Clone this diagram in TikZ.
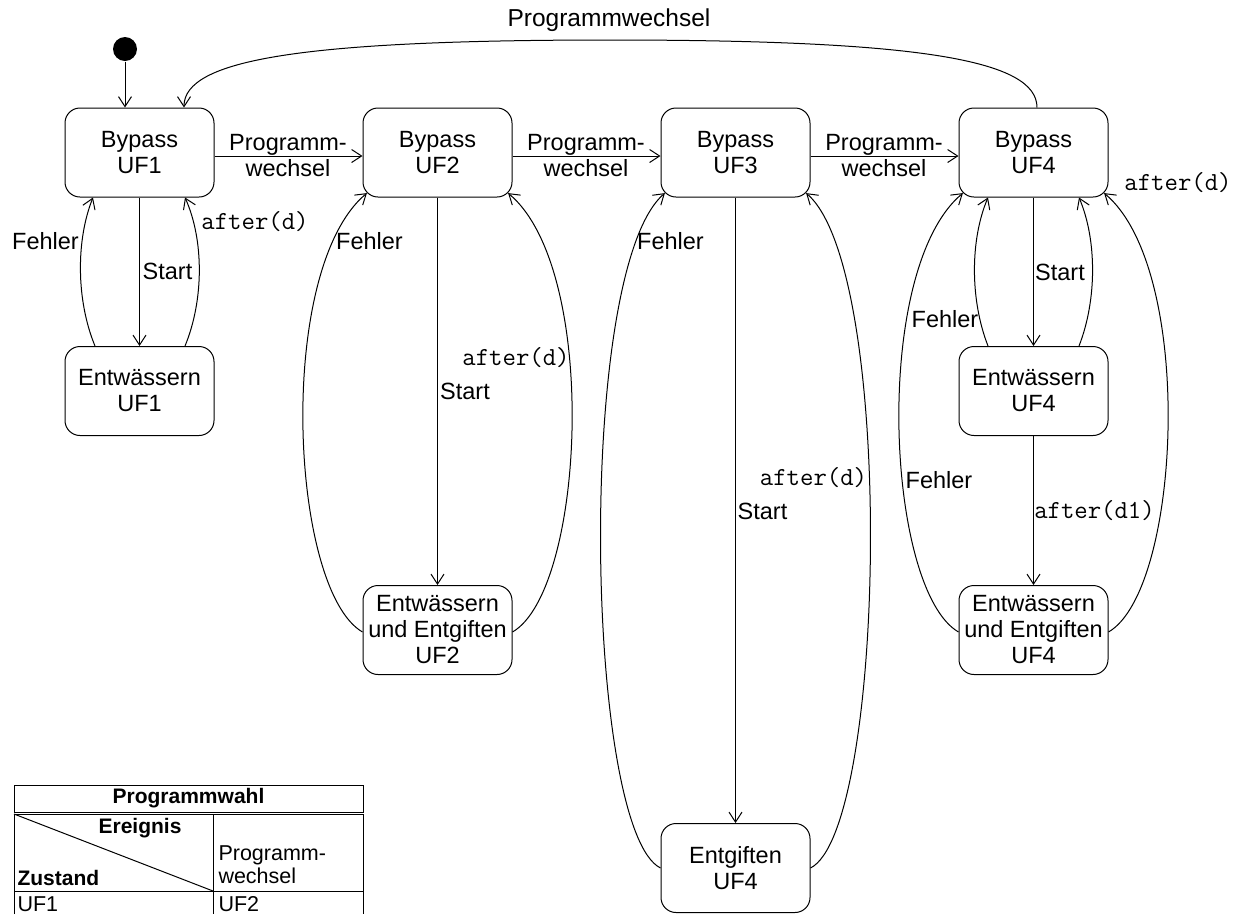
\documentclass[tikz,border=0pt]{standalone}
\usepackage{fontspec}
\setmainfont{Liberation Sans}
\usetikzlibrary{arrows.meta}
\begin{document}
\begin{tikzpicture}[x=1pt,y=-1pt,
  line width=1pt,
  every node/.style={inner sep=0pt},
  state/.style={draw, rounded corners=15pt, minimum width=149pt, minimum height=89pt,
    align=center, font=\fontsize{23.5}{26}\selectfont},
  lbl/.style={font=\fontsize{23.5}{26}\selectfont, align=center},
  mono/.style={font=\fontsize{26}{28}\selectfont\ttfamily},
  trans/.style={-{Straight Barb[length=10pt,width=13pt]}},
  tbl/.style={font=\fontsize{21.5}{23}\selectfont},
  tblb/.style={font=\fontsize{21}{23}\selectfont\bfseries}
]
\useasboundingbox (0,0) rectangle (1243,914);

% states
\node[state] (b1)  at (139.5,152.5) {Bypass\\UF1};
\node[state] (e1)  at (139.5,391)   {Entwässern\\UF1};
\node[state] (b2)  at (437.5,152.5) {Bypass\\UF2};
\node[state] (ee2) at (437.5,630)   {Entwässern\\und Entgiften\\UF2};
\node[state] (b3)  at (735.5,152.5) {Bypass\\UF3};
\node[state] (g4)  at (735.5,868)   {Entgiften\\UF4};
\node[state] (b4)  at (1033.5,152.5){Bypass\\UF4};
\node[state] (e4)  at (1033.5,391)  {Entwässern\\UF4};
\node[state] (ee4) at (1033.5,630)  {Entwässern\\und Entgiften\\UF4};

% initial state
\node[circle, fill, minimum size=24pt] (init) at (125,49) {};
\draw[trans] (init) -- ([xshift=-14.5pt]b1.north);

% program change chain
\draw[trans] (b1.east |- 0,156) -- (b2.west |- 0,156);
\draw[trans] (b2.east |- 0,156) -- (b3.west |- 0,156);
\draw[trans] (b3.east |- 0,156) -- (b4.west |- 0,156);
\node[lbl] (pw1) at (288,156) {Programm-\\wechsel};
\node[lbl] (pw2) at (586,156) {Programm-\\wechsel};
\node[lbl] (pw3) at (884,156) {Programm-\\wechsel};

\draw[trans] ([xshift=3.5pt]b4.north) .. controls (1037,60) and (920,40) .. (610,40)
  .. controls (300,40) and (184,60) .. ([xshift=44.5pt]b1.north);
\node[lbl, font=\fontsize{24.5}{26}\selectfont] (pwtop) at (609,20) {Programmwechsel};

% UF1
\draw[trans] (b1.south) -- (e1.north);
\draw[trans] ([xshift=-44.5pt]e1.north) .. controls (76,300) and (76,240) .. ([xshift=-46.5pt]b1.south);
\draw[trans] ([xshift=45.5pt]e1.north) .. controls (204,300) and (204,240) .. ([xshift=45.5pt]b1.south);
\node[lbl] (f1) at (45.5,241) {Fehler};
\node[lbl] (s1) at (167.5,271) {Start};
\node[mono] (a1) at (255,222) {after(d)};

% UF2
\draw[trans] (b2.south) -- (ee2.north);
\draw[trans] ([yshift=-2pt]ee2.west) .. controls (290,590) and (275,270) .. ([xshift=4.4pt,yshift=4.4pt]b2.south west);
\draw[trans] ([yshift=-2pt]ee2.east) .. controls (585,590) and (600,270) .. ([xshift=-4.4pt,yshift=4.4pt]b2.south east);
\node[lbl] (f2) at (369.5,241) {Fehler};
\node[lbl] (s2) at (465,391) {Start};
\node[mono] (a2) at (516,358) {after(d)};

% UF3
\draw[trans] (b3.south) -- (g4.north);
\draw[trans] (g4.west) .. controls (585,830) and (575,270) .. ([xshift=4.4pt,yshift=4.4pt]b3.south west);
\draw[trans] (g4.east) .. controls (886,830) and (896,270) .. ([xshift=-4.4pt,yshift=4.4pt]b3.south east);
\node[lbl] (f3) at (670.5,241) {Fehler};
\node[lbl] (s3) at (762.5,511) {Start};
\node[mono] (a3) at (813.5,478) {after(d)};

% UF4
\draw[trans] (b4.south) -- (e4.north);
\draw[trans] (e4.south) -- (ee4.north);
\draw[trans] ([xshift=-45.5pt]e4.north) .. controls (970,300) and (970,240) .. ([xshift=-45.5pt]b4.south);
\draw[trans] ([xshift=45.5pt]e4.north) .. controls (1097,300) and (1097,240) .. ([xshift=45.5pt]b4.south);
\draw[trans] ([yshift=-2pt]ee4.west) .. controls (886,590) and (871,270) .. ([xshift=4.4pt,yshift=4.4pt]b4.south west);
\draw[trans] ([yshift=-2pt]ee4.east) .. controls (1181,590) and (1196,270) .. ([xshift=-4.4pt,yshift=4.4pt]b4.south east);
\node[lbl] (f4a) at (945,319) {Fehler};
\node[lbl] (s4) at (1060,272) {Start};
\node[mono] (a4) at (1178,183) {after(d)};
\node[lbl] (f4b) at (939,480) {Fehler};
\node[mono] (a4b) at (1094.5,511) {after(d1)};

% transition table
\draw (14,785) rectangle (363,812);
\node[tblb] (tt) at (188.5,798.5) {Programmwahl};
\draw (14,914) -- (14,814) -- (363,814) -- (363,914);
\draw (213,814) -- (213,914);
\draw (14,891) -- (363,891);
\draw (14,814) -- (213,891);
\node[tblb, anchor=base east] (ev) at (182,833) {Ereignis};
\node[tblb, anchor=base west] (zu) at (17,885) {Zustand};
\node[tbl, anchor=base west] (pc1) at (218,860) {Programm-};
\node[tbl, anchor=base west] (pc2) at (218,883) {wechsel};
\node[tbl, anchor=base west] (r1) at (17,911) {UF1};
\node[tbl, anchor=base west] (r2) at (218,911) {UF2};
\end{tikzpicture}
\end{document}
